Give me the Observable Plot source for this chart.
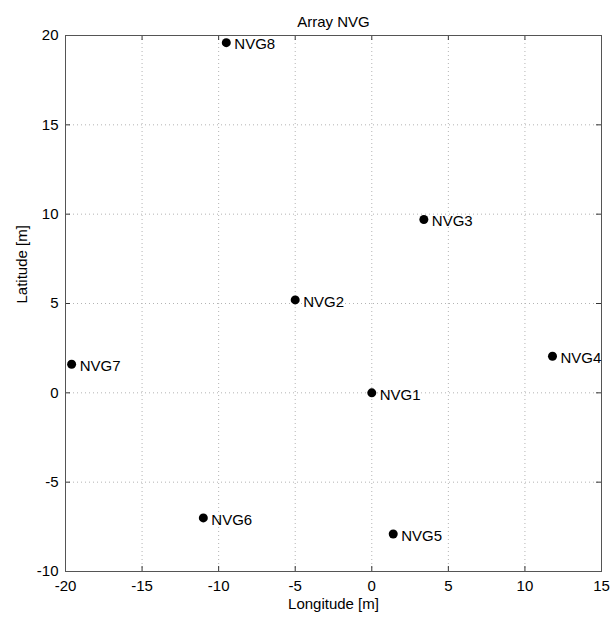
<!DOCTYPE html>
<html><head><meta charset="utf-8">
<script src="https://cdn.jsdelivr.net/npm/d3@7"></script>
<script src="https://cdn.jsdelivr.net/npm/@observablehq/plot@0.6"></script>
<style>body{margin:0;background:#fff}</style>
</head><body><div id="chart"></div>
<script>
const names = ["NVG1","NVG2","NVG3","NVG4","NVG5","NVG6","NVG7","NVG8"];
const lon = [0.0, -5.0, 3.4, 11.8, 1.4, -11.0, -19.6, -9.5];
const lat = [0.0, 5.2, 9.7, 2.05, -7.9, -7.0, 1.6, 19.6];
const xTicks = [-20,-15,-10,-5,0,5,10,15];
const yTicks = [-10,-5,0,5,10,15,20];
const titleText = "Array NVG";
const xLabel = "Longitude [m]";
const yLabel = "Latitude [m]";

const data = names.map((n,i) => ({name:n, x:lon[i], y:lat[i]}));

const W = 612, H = 620, mL = 65, mR = 11, mT = 35, mB = 49;
const pw = W - mL - mR, ph = H - mT - mB;
const tick = 5;
const fmt = d => String(d);

const chart = Plot.plot({
  width: W, height: H,
  marginLeft: mL, marginRight: mR, marginTop: mT, marginBottom: mB,
  style: {fontFamily: "'Liberation Sans', Arial, sans-serif", fontSize: "15px", background: "white", color: "#000"},
  x: {domain: [-20, 15], ticks: xTicks, label: null},
  y: {domain: [-10, 20], ticks: yTicks, label: null},
  marks: [
    Plot.gridX(xTicks, {stroke: "#b4b4b4", strokeOpacity: 1, strokeDasharray: "1,3"}),
    Plot.gridY(yTicks, {stroke: "#b4b4b4", strokeOpacity: 1, strokeDasharray: "1,3"}),
    Plot.tickX(xTicks, {x: d => d, insetTop: ph - tick, stroke: "#333"}),
    Plot.tickX(xTicks, {x: d => d, insetBottom: ph - tick, stroke: "#333"}),
    Plot.tickY(yTicks, {y: d => d, insetRight: pw - tick, stroke: "#333"}),
    Plot.tickY(yTicks, {y: d => d, insetLeft: pw - tick, stroke: "#333"}),
    Plot.frame({stroke: "#555"}),
    Plot.axisX(xTicks, {tickSize: 0, tickPadding: 9, label: null, fontSize: 15, tickFormat: fmt}),
    Plot.axisY(yTicks, {tickSize: 0, tickPadding: 7, label: null, fontSize: 15, tickFormat: fmt}),
    Plot.dot(data, {x: "x", y: "y", r: 4.5, fill: "black", stroke: "none"}),
    Plot.text(data, {x: "x", y: "y", text: "name", textAnchor: "start", dx: 8, dy: 2, fontSize: 15, fill: "black"}),
    Plot.text([titleText], {frameAnchor: "top", dy: -19, fontSize: 15, fill: "black"}),
    Plot.text([xLabel], {frameAnchor: "bottom", dy: 37, fontSize: 15, fill: "black"}),
    Plot.text([yLabel], {frameAnchor: "left", dx: -43, rotate: -90, fontSize: 15, fill: "black"})
  ]
});
document.getElementById("chart").appendChild(chart);
</script>
</body></html>
